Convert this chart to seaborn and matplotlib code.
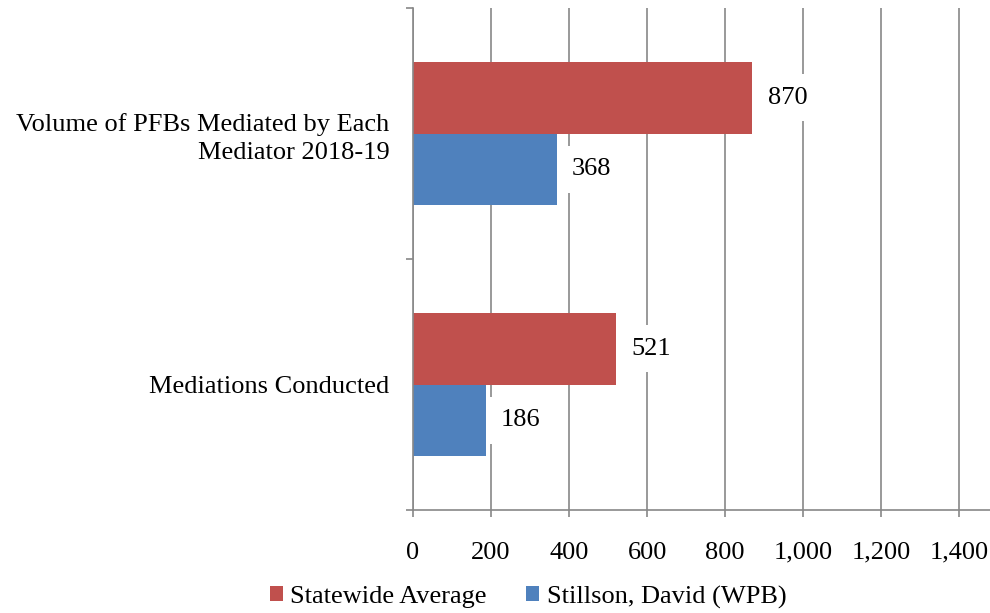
import matplotlib
matplotlib.use("Agg")
import matplotlib.pyplot as plt
from matplotlib.patches import Patch
from matplotlib.ticker import FixedLocator, FuncFormatter
import seaborn as sns
import pandas as pd

categories = ["Volume of PFBs Mediated by Each\nMediator 2018-19", "Mediations Conducted"]
series = ["Statewide Average", "Stillson, David (WPB)"]
statewide_avg = [870, 521]
stillson = [368, 186]
x_ticks = [0, 200, 400, 600, 800, 1000, 1200, 1400]
colors = ["#C0504D", "#4F81BD"]

df = pd.DataFrame({
    "category": categories * 2,
    "series": [series[0]] * 2 + [series[1]] * 2,
    "value": statewide_avg + stillson,
})

sns.set_theme(style="white")
plt.rcParams["font.family"] = ["Liberation Serif", "DejaVu Serif"]
plt.rcParams["text.color"] = "black"
plt.rcParams["xtick.labelcolor"] = "black"
plt.rcParams["ytick.labelcolor"] = "black"
grid_color = "#888888"

fig = plt.figure(figsize=(9.9, 6.13), dpi=100)
ax = fig.add_axes([413 / 990, 1 - 510 / 613, 1 - 413 / 990, (510 - 8) / 613])

sns.barplot(data=df, x="value", y="category", hue="series", order=categories,
            hue_order=series, palette=colors, orient="h", width=0.57,
            saturation=1, linewidth=0, legend=False, ax=ax)

ax.set_xlim(0, 1479)
ax.set_ylim(1.5, -0.5)
ax.set_xlabel("")
ax.set_ylabel("")

# x axis: ticks every 200 with thousands separators, vertical gridlines
ax.xaxis.set_major_locator(FixedLocator(x_ticks))
ax.xaxis.set_major_formatter(FuncFormatter(lambda v, p: f"{int(v):,}"))
ax.set_axisbelow(True)
ax.grid(axis="x", color=grid_color, linewidth=1.2)
ax.grid(axis="y", visible=False)
ax.tick_params(axis="x", which="major", direction="out", length=5, width=1.2,
               color=grid_color, labelsize=19, pad=18, bottom=True,
               labelcolor="black")

# y axis: category labels centred, tick marks on band boundaries
ax.yaxis.set_minor_locator(FixedLocator([-0.5, 0.5, 1.5]))
ax.tick_params(axis="y", which="major", length=0, labelsize=19, pad=17,
               labelcolor="black")
ax.tick_params(axis="y", which="minor", direction="out", length=5, width=1.2,
               color=grid_color, left=True)
for lbl in ax.get_yticklabels():
    lbl.set_horizontalalignment("right")
    lbl.set_multialignment("right")
    lbl.set_linespacing(1.35)

for side in ["top", "right"]:
    ax.spines[side].set_visible(False)
for side in ["left", "bottom"]:
    ax.spines[side].set_color(grid_color)
    ax.spines[side].set_linewidth(1.2)

# value labels with white backing over the gridlines
for container in ax.containers:
    ax.bar_label(container, fmt="%d", padding=11, fontsize=19, zorder=5,
                 color="black",
                 bbox=dict(facecolor="white", edgecolor="none", pad=9))

handles = [Patch(facecolor=c, edgecolor="none") for c in colors]
fig.legend(handles, series, loc="center", bbox_to_anchor=(528 / 990, 1 - 597 / 613),
           ncol=2, frameon=False, fontsize=19, handlelength=0.5, handleheight=0.5,
           handletextpad=0.27, columnspacing=1.5, borderaxespad=0,
           labelcolor="black")

fig.savefig("out.png", dpi=100)
